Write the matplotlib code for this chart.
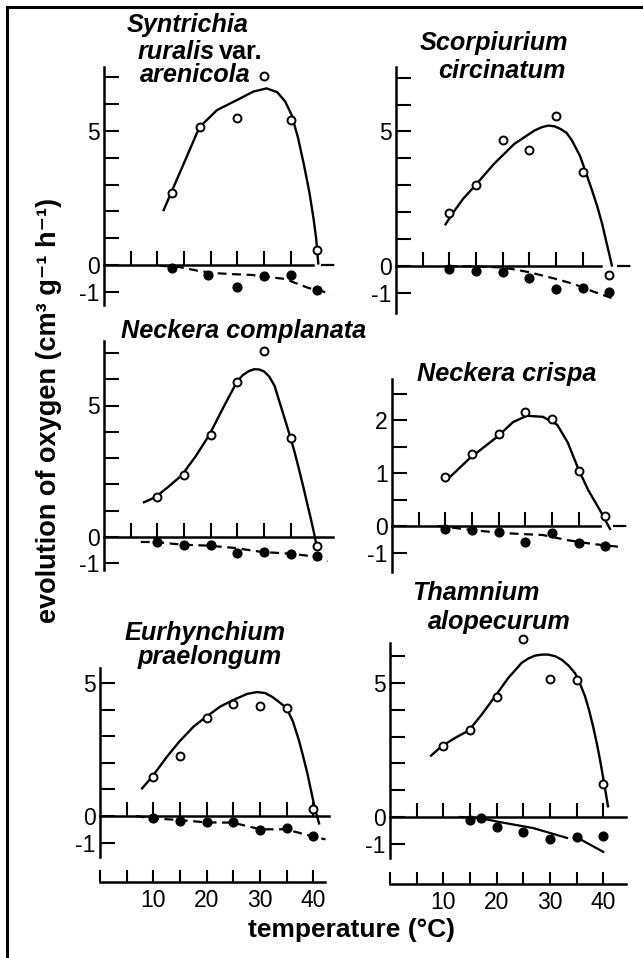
import numpy as np
import matplotlib
matplotlib.use('Agg')
import matplotlib.pyplot as plt
from matplotlib.lines import Line2D

plt.rcParams['font.family'] = ['Liberation Sans', 'DejaVu Sans']

W, H = 643, 958
SX = 5.33  # px per degree C

temps = [10, 15, 20, 25, 30, 35, 40]

# Syntrichia ruralis var. arenicola
p1_open_t = [12.7, 18.0, 25, 30, 35, 40]
p1_open_v = [2.7, 5.16, 5.5, 7.05, 5.41, 0.56]
p1_fill_t = [12.7, 19.5, 25, 30, 35, 40]
p1_fill_v = [-0.11, -0.37, -0.82, -0.41, -0.37, -0.93]
p1_fit_t = [11.2, 12.6, 15, 17.9, 21.2, 25, 28, 30.5, 32.5, 34, 35.2, 36.4, 37.5, 38.5, 39.3, 39.8, 40.2]
p1_fit_v = [2.05, 2.7, 3.8, 5.14, 5.78, 6.16, 6.47, 6.59, 6.45, 6.1, 5.6, 4.75, 3.75, 2.75, 1.75, 1.0, 0.06]
p1_dark_t = [10.6, 14, 17.7, 20.5, 24, 27.7, 30.9, 34, 35.9, 38.4, 40.8, 42.5]
p1_dark_v = [-0.03, -0.07, -0.22, -0.3, -0.34, -0.37, -0.45, -0.52, -0.67, -0.86, -0.97, -1.08]

# Scorpiurium circinatum
p2_open_v = [1.98, 3.0, 4.7, 4.33, 5.59, 3.49, -0.34]
p2_fill_v = [-0.13, -0.17, -0.22, -0.43, -0.85, -0.83, -0.95]
p2_fit_t = [9.3, 10.7, 12.6, 14.9, 18.4, 22.2, 26, 27.5, 28.6, 29.8, 30.8, 32, 33, 34.5, 35.6,
            36.8, 37.8, 38.7, 39.4, 40, 40.5]
p2_fit_v = [1.55, 1.98, 2.5, 3.0, 3.8, 4.54, 5.04, 5.17, 5.22, 5.19, 5.1, 4.95, 4.67, 4.1, 3.49,
            2.8, 2.19, 1.55, 0.95, 0.45, 0.02]
p2_dark_t = [9.8, 15, 19.6, 22, 24.7, 27, 29.8, 32.5, 34.9, 37, 40.9]
p2_dark_v = [0, -0.02, -0.05, -0.12, -0.22, -0.33, -0.47, -0.62, -0.78, -0.95, -1.22]

# Neckera complanata
p3_open_v = [1.51, 2.35, 3.86, 5.89, 7.09, 3.77, -0.33]
p3_fill_v = [-0.19, -0.29, -0.29, -0.61, -0.57, -0.63, -0.74]
p3_fit_t = [7.5, 9.6, 12.2, 14.6, 17.2, 19.7, 22.2, 24.9, 26, 27.2, 28.2, 29.1, 30, 31, 32, 32.8,
            33.9, 35, 35.8, 36.6, 37.4, 38.1, 38.8, 39.4, 39.8]
p3_fit_v = [1.32, 1.51, 1.93, 2.35, 3.07, 3.86, 4.85, 5.89, 6.15, 6.31, 6.38, 6.37, 6.3, 6.1, 5.75, 5.22,
            4.5, 3.77, 3.2, 2.56, 1.9, 1.29, 0.7, 0.15, -0.25]
p3_dark_t = [6.9, 9.6, 14.6, 19.7, 24.7, 29.6, 34.8, 39.4, 41.9]
p3_dark_v = [-0.19, -0.19, -0.29, -0.33, -0.42, -0.57, -0.63, -0.74, -0.93]

# Neckera crispa (positive side drawn at double scale)
p4_open_v = [0.93, 1.35, 1.74, 2.15, 2.01, 1.03, 0.19]
p4_fill_v = [-0.1, -0.15, -0.23, -0.61, -0.26, -0.65, -0.74]
p4_fit_t = [10.1, 14.6, 19.7, 22.7, 25.3, 28.3, 31, 33, 34.9, 36.8, 39, 40.9]
p4_fit_v = [0.85, 1.28, 1.68, 1.96, 2.08, 2.06, 1.91, 1.57, 1.09, 0.68, 0.3, -0.11]
p4_dark_t = [8.6, 13.3, 19.7, 24, 28.3, 32.8, 37.7, 42.4]
p4_dark_v = [0, -0.11, -0.25, -0.3, -0.34, -0.53, -0.68, -0.78]

# Eurhynchium praelongum
p5_open_v = [1.48, 2.27, 3.7, 4.2, 4.15, 4.06, 0.25]
p5_fill_v = [-0.09, -0.18, -0.24, -0.21, -0.53, -0.46, -0.75]
p5_fit_t = [7.9, 9.8, 12.6, 14.9, 17.6, 20, 22.6, 25.1, 27.6, 29.5, 31, 32.3, 33.5, 35, 36.2,
            37.3, 38.1, 38.9, 39.6, 40.3, 41.1]
p5_fit_v = [1.04, 1.48, 2.24, 2.8, 3.37, 3.74, 4.12, 4.37, 4.59, 4.66, 4.62, 4.48, 4.3, 4.06, 3.55,
            2.86, 2.25, 1.61, 0.95, 0.3, -0.28]
p5_dark_t = [6.7, 9.9, 14.8, 20, 24.9, 30.1, 34.8, 39.6, 42.3]
p5_dark_v = [0, -0.09, -0.15, -0.24, -0.25, -0.5, -0.5, -0.75, -0.88]

# Thamnium alopecurum
p6_open_v = [2.64, 3.23, 4.47, 6.64, 5.16, 5.12, 1.23]
p6_fill_t = [15, 17, 20, 25, 30, 35, 40]
p6_fill_v = [-0.11, -0.04, -0.37, -0.56, -0.82, -0.75, -0.71]
p6_fit_t = [7.7, 9.7, 12.2, 14.8, 17.2, 19.6, 22.2, 24.7, 26, 27.2, 28.5, 29.7, 31, 32.2, 33.5, 34.7,
            35.7, 36.6, 37.4, 38.1, 38.8, 39.4, 40.2, 40.9]
p6_fit_v = [2.29, 2.64, 2.95, 3.23, 3.82, 4.47, 5.19, 5.75, 5.92, 6.02, 6.06, 6.06, 6.0, 5.87, 5.65, 5.37,
            4.95, 4.5, 3.95, 3.38, 2.75, 2.14, 1.23, 0.4]
p6_dark_t1 = [13.1, 16.9, 20.6, 26.8, 33.2]
p6_dark_v1 = [0, -0.04, -0.19, -0.41, -0.78]
p6_dark_t2 = [35.6, 40]
p6_dark_v2 = [-0.82, -1.3]

fig = plt.figure(figsize=(W / 100, H / 100), dpi=100)


def fx(px):
    return px / W


def fy(py):
    return 1 - py / H


def make_panel(x0, y0, sy, ylim, yticks, ylabels, xticks, zero_end, zero_dash=None, fwd=None, inv=None):
    tr = fwd if fwd is not None else (lambda v: v)
    top = y0 - float(tr(np.array(ylim[1]))) * sy
    bot = y0 - float(tr(np.array(ylim[0]))) * sy
    ax = fig.add_axes([fx(x0), fy(bot), 45 * SX / W, (bot - top) / H])
    if fwd is not None:
        ax.set_yscale('function', functions=(fwd, inv))
    ax.set_xlim(0, 45)
    ax.set_ylim(*ylim)
    ax.patch.set_visible(False)
    ax.spines['top'].set_visible(False)
    ax.spines['right'].set_visible(False)
    ax.spines['left'].set_linewidth(1.8)
    ax.spines['bottom'].set_position(('data', 0))
    ax.spines['bottom'].set_bounds(0, zero_end)
    ax.spines['bottom'].set_linewidth(1.8)
    ax.set_xticks(xticks)
    ax.tick_params(axis='x', direction='in', length=10, width=1.5, labelbottom=False)
    ax.set_yticks(yticks)
    ax.set_yticklabels(ylabels)
    ax.yaxis.set_minor_locator(matplotlib.ticker.NullLocator())
    ax.tick_params(axis='y', direction='in', length=10.5, width=1.5, labelsize=16.5, pad=3)
    if zero_dash is not None:
        ax.plot(zero_dash, [0, 0], color='k', lw=1.6, dashes=(6, 3), clip_on=False)
    return ax


def draw(ax, open_t, open_v, fill_t, fill_v, fit_t, fit_v, dark_t, dark_v, dashed=True):
    ax.plot(fit_t, fit_v, color='k', lw=1.7, clip_on=False)
    if dashed:
        ax.plot(dark_t, dark_v, color='k', lw=1.6, dashes=(4, 2.5), clip_on=False)
    else:
        ax.plot(dark_t, dark_v, color='k', lw=1.6, clip_on=False)
    ax.plot(fill_t, fill_v, 'o', color='k', ms=6.3, clip_on=False, zorder=4)
    ax.plot(open_t, open_v, 'o', mfc='white', mec='k', mew=1.4, ms=5.7, clip_on=False, zorder=5)


def bottom_axis(x0, yline, end):
    ax = fig.add_axes([fx(x0), fy(yline), 45 * SX / W, 20 / H])
    ax.set_xlim(0, 45)
    ax.set_ylim(0, 1)
    ax.patch.set_visible(False)
    for s in ['top', 'right', 'left']:
        ax.spines[s].set_visible(False)
    ax.spines['bottom'].set_bounds(0, end)
    ax.spines['bottom'].set_linewidth(1.8)
    ax.set_yticks([])
    ax.set_xticks([0, 5, 10, 15, 20, 25, 30, 35, 40])
    ax.set_xticklabels(['', '', '10', '', '20', '', '30', '', '40'])
    ax.tick_params(axis='x', direction='in', length=9, width=1.5, labelsize=16.5, pad=5)
    return ax


y_std = [-1, 0, 1, 2, 3, 4, 5, 6, 7]
y_std_lab = ['-1', '0', '', '', '', '', '5', '', '']
xt7 = [5, 10, 15, 20, 25, 30, 35]
xt8 = [5, 10, 15, 20, 25, 30, 35, 40]

ax1 = make_panel(104, 265, 26.8, (-1.5, 7.4), y_std, y_std_lab, xt7, 39.2, zero_dash=[40.8, 44.5])
draw(ax1, p1_open_t, p1_open_v, p1_fill_t, p1_fill_v, p1_fit_t, p1_fit_v, p1_dark_t, p1_dark_v)

ax2 = make_panel(396, 266, 26.9, (-1.75, 7.4), y_std, y_std_lab, xt7, 38.5, zero_dash=[41.5, 44.5])
draw(ax2, temps, p2_open_v, temps, p2_fill_v, p2_fit_t, p2_fit_v, p2_dark_t, p2_dark_v)

ax3 = make_panel(104, 537, 26.3, (-1.26, 7.45), y_std, y_std_lab, xt7, 43)
draw(ax3, temps, p3_open_v, temps, p3_fill_v, p3_fit_t, p3_fit_v, p3_dark_t, p3_dark_v)


def fwd4(y):
    y = np.asarray(y, dtype=float)
    return np.where(y > 0, 2 * y, y)


def inv4(v):
    v = np.asarray(v, dtype=float)
    return np.where(v > 0, v / 2, v)


ax4 = make_panel(392, 526, 26.5, (-1.74, 2.77), [-1, 0, 0.5, 1, 1.5, 2, 2.5],
                 ['-1', '0', '', '1', '', '2', ''], xt7, 39, zero_dash=[41.5, 44.5], fwd=fwd4, inv=inv4)
draw(ax4, temps, p4_open_v, temps, p4_fill_v, p4_fit_t, p4_fit_v, p4_dark_t, p4_dark_v)

ax5 = make_panel(100, 816, 26.6, (-1.54, 5.55), y_std[:7], y_std_lab[:7], xt8, 43)
draw(ax5, temps, p5_open_v, temps, p5_fill_v, p5_fit_t, p5_fit_v, p5_dark_t, p5_dark_v)

ax6 = make_panel(390, 817, 26.8, (-1.53, 6.5), y_std[:8], y_std_lab[:8], xt8, 44.3)
draw(ax6, temps, p6_open_v, p6_fill_t, p6_fill_v, p6_fit_t, p6_fit_v, p6_dark_t1, p6_dark_v1, dashed=False)
ax6.plot(p6_dark_t2, p6_dark_v2, color='k', lw=1.6, clip_on=False)

bottom_axis(100, 882, 42.2)
bottom_axis(390, 884, 44.3)

# panel titles
tkw = dict(fontsize=18.2, fontweight='bold', va='center', ha='left')
fig.text(fx(127), fy(25), 'Syntrichia', style='italic', **tkw)
t_rur = fig.text(fx(138), fy(52), 'ruralis', style='italic', **tkw)
fig.text(0, 0, 'var.', fontsize=18.2, fontweight='bold', ha='left', va='bottom',
         transform=matplotlib.transforms.offset_copy(
             matplotlib.text.OffsetFrom(t_rur, (1, 0))(fig.canvas.get_renderer()), fig=fig, x=4, y=0, units='dots'))
fig.text(fx(140), fy(75), 'arenicola', style='italic', **tkw)
fig.text(fx(420), fy(43), 'Scorpiurium', style='italic', **tkw)
fig.text(fx(438), fy(71), 'circinatum', style='italic', **tkw)
fig.text(fx(121), fy(331), 'Neckera complanata', style='italic', **tkw)
fig.text(fx(417), fy(374), 'Neckera crispa', style='italic', **tkw)
fig.text(fx(125), fy(633), 'Eurhynchium', style='italic', **tkw)
fig.text(fx(138), fy(657), 'praelongum', style='italic', **tkw)
fig.text(fx(412), fy(593), 'Thamnium', style='italic', **tkw)
fig.text(fx(428), fy(622), 'alopecurum', style='italic', **tkw)

fig.text(fx(49), fy(410), 'evolution of oxygen (cm³ g⁻¹ h⁻¹)', rotation=90,
         fontsize=19.5, fontweight='bold', ha='center', va='center')
fig.text(fx(351), fy(930), 'temperature (°C)', fontsize=19, fontweight='bold', ha='center', va='center')

# frame of the scanned figure
fig.add_artist(Line2D([fx(7), fx(7)], [0, fy(7)], color='k', lw=2.2))
fig.add_artist(Line2D([fx(7), 1], [fy(7), fy(7)], color='k', lw=2.2))

fig.savefig('out.png', dpi=100)
